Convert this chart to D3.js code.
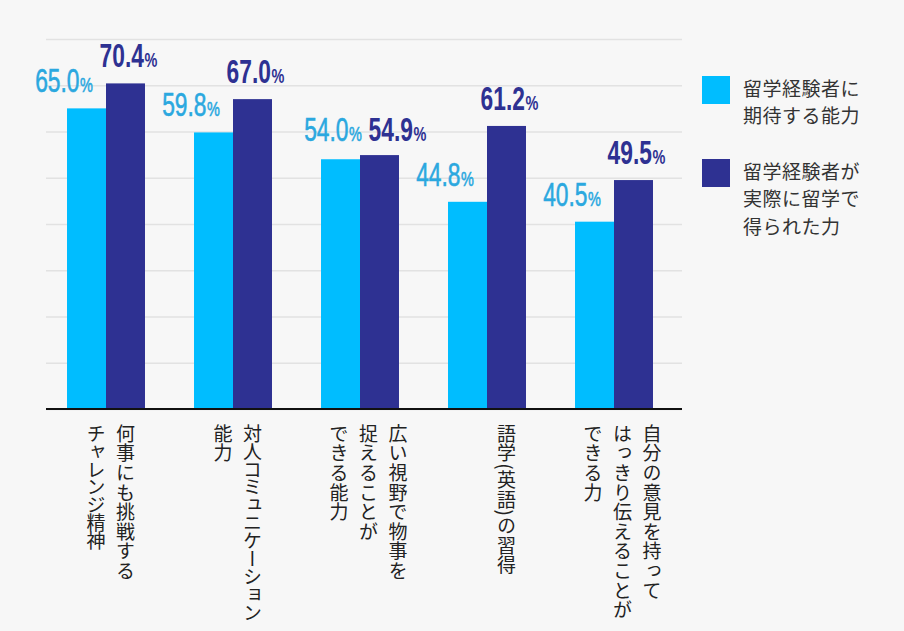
<!doctype html>
<html lang="ja">
<head>
<meta charset="utf-8">
<title>留学で得られた力</title>
<style type="text/css">
  html, body { margin: 0; padding: 0; background-color: #f7f7f7; }
  svg { display: block; }
  .cjk { font-family: "Noto Sans CJK JP", "Noto Sans", sans-serif; }
  .num { font-family: "Liberation Sans", Arial, sans-serif; }
</style>
</head>
<body>
<script src="https://cdnjs.cloudflare.com/ajax/libs/d3/7.8.5/d3.min.js"></script>
<script>

// data
var categories = [
  ["何事にも挑戦する", "チャレンジ精神"],
  ["対人コミュニケーション", "能力"],
  ["広い視野で物事を", "捉えることが", "できる能力"],
  ["語学(英語)の習得"],
  ["自分の意見を持って", "はっきり伝えることが", "できる力"]
];
var expected = [65.0, 59.8, 54.0, 44.8, 40.5];
var gained = [70.4, 67.0, 54.9, 61.2, 49.5];
var seriesNames = [
  ["留学経験者に", "期待する能力"],
  ["留学経験者が", "実際に留学で", "得られた力"]
];
var yTicks = [0, 10, 20, 30, 40, 50, 60, 70, 80];

var colors = ["#00bdff", "#2e3192"];
var labelColors = ["#2ba8df", "#2e3192"];

// size
var w = 904;
var h = 631;

var svg = d3.select("body")
  .append("svg")
  .attr("width", w)
  .attr("height", h);

var x = d3.scaleBand()
  .domain(d3.range(categories.length))
  .range([42.5, 677.5])
  .paddingInner(0.386)
  .paddingOuter(0.193);

var y = d3.scaleLinear()
  .domain([0, 80])
  .range([409, 39]);

// gridlines
var yAxis = d3.axisLeft(y)
  .tickValues(yTicks)
  .tickSize(-(682 - 46))
  .tickFormat("");

svg.append("g")
  .attr("transform", "translate(46,0)")
  .call(yAxis)
  .call(function(g) {
    g.select(".domain").remove();
    g.selectAll(".tick line")
      .attr("stroke", "#e2e2e2")
      .attr("stroke-width", 1.5);
  });

var bw = x.bandwidth() / 2;

var rows = categories.map(function(c, i) {
  return { i: i, a: expected[i], b: gained[i] };
});

// bars
var groups = svg.append("g")
  .selectAll("g")
  .data(rows)
  .enter()
  .append("g")
  .attr("transform", function(d) { return "translate(" + x(d.i) + ",0)"; });

groups.append("rect")
  .attr("x", 0)
  .attr("y", function(d) { return y(d.a); })
  .attr("width", bw)
  .attr("height", function(d) { return y(0) - y(d.a); })
  .attr("fill", colors[0]);

groups.append("rect")
  .attr("x", bw)
  .attr("y", function(d) { return y(d.b); })
  .attr("width", bw)
  .attr("height", function(d) { return y(0) - y(d.b); })
  .attr("fill", colors[1]);

// baseline
svg.append("line")
  .attr("x1", 46)
  .attr("x2", 682)
  .attr("y1", y(0))
  .attr("y2", y(0))
  .attr("stroke", "#111")
  .attr("stroke-width", 2);

// value labels (condensed by scaling)
function valueLabel(g, xpos, ypos, val, anchor, color, weight, sw) {
  var t = g.append("g")
    .attr("transform", "translate(" + xpos + "," + ypos + ") scale(0.69,1)")
    .append("text")
    .attr("class", "num")
    .attr("text-anchor", anchor)
    .attr("fill", color)
    .attr("stroke", color)
    .attr("stroke-width", sw)
    .attr("font-weight", weight)
    .attr("font-size", 33);
  t.append("tspan").text(val.toFixed(1));
  t.append("tspan").attr("font-size", 21).attr("dx", 1).text("%");
}

groups.each(function(d) {
  var g = d3.select(this);
  // close values: put both labels on one line, shifted right
  var close = Math.abs(d.a - d.b) < 3;
  var nudge = close ? 15 : 0;
  var top = Math.min(y(d.a), y(d.b));
  valueLabel(g, 26 + nudge, (close ? top + 2 : y(d.a)) - 16, d.a, "end", labelColors[0], "normal", 0.6);
  valueLabel(g, bw * 1.5 + 3 + nudge, (close ? top + 2 : y(d.b)) - 16, d.b, "middle", labelColors[1], "bold", 0);
});

// category labels (vertical)
groups.each(function(d) {
  var lines = categories[d.i];
  var c = x.bandwidth() / 2;
  var right = c + (lines.length > 2 ? 38 : 19.5);
  d3.select(this).selectAll("text.cat")
    .data(lines)
    .enter()
    .append("text")
    .attr("class", "cjk cat")
    .attr("x", function(l, j) { return right - j * 29.5; })
    .attr("y", 424)
    .style("writing-mode", "vertical-rl")
    .attr("font-size", 19)
    // katakana runs set tighter, like the original
    .attr("letter-spacing", function(l) { return /[ァ-ヶー]/.test(l) ? -1.1 : 0.6; })
    .attr("fill", "#222")
    .text(function(l) { return l; });
});

// legend
var legendTop = [76, 159];
var legend = svg.append("g")
  .selectAll("g")
  .data(seriesNames)
  .enter()
  .append("g")
  .attr("transform", function(d, i) { return "translate(702," + legendTop[i] + ")"; });

legend.append("rect")
  .attr("width", 28)
  .attr("height", 28)
  .attr("fill", function(d, i) { return colors[i]; });

legend.each(function(d) {
  d3.select(this).selectAll("text")
    .data(d)
    .enter()
    .append("text")
    .attr("class", "cjk")
    .attr("x", 41)
    .attr("y", function(l, j) { return 11 + j * 27.5; })
    .attr("dominant-baseline", "central")
    .attr("font-size", 19)
    .attr("letter-spacing", 0.5)
    .attr("fill", "#333")
    .text(function(l) { return l; });
});

</script>
</body>
</html>
